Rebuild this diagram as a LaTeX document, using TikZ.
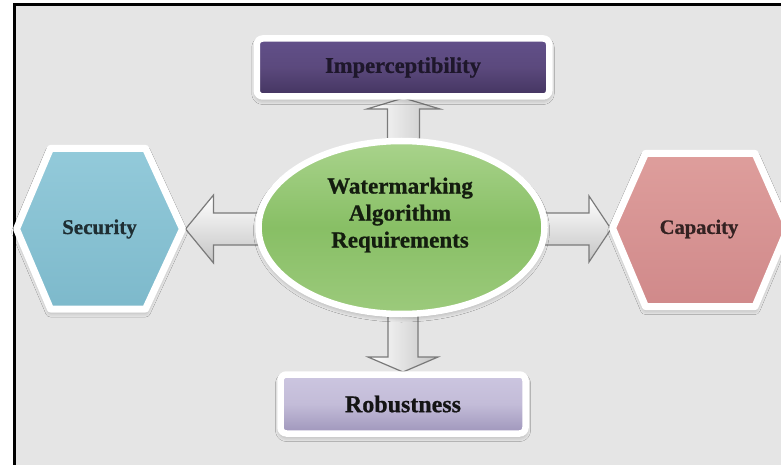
\documentclass[tikz,border=0pt]{standalone}
\usepackage{fontspec}
\setmainfont{Liberation Serif}[BoldFeatures={FakeBold=0.8}]
\usetikzlibrary{shapes.geometric,shadows.blur,calc}

\definecolor{bgc}{HTML}{E5E5E5}
\definecolor{purpTop}{HTML}{62508A}
\definecolor{purpMid}{HTML}{5B497D}
\definecolor{purpBot}{HTML}{433460}
\definecolor{lavTop}{HTML}{CCC6E0}
\definecolor{lavMid}{HTML}{C3BCD8}
\definecolor{lavBot}{HTML}{9E95BA}
\definecolor{grnTop}{HTML}{A9D38C}
\definecolor{grnMid}{HTML}{88BF65}
\definecolor{grnBot}{HTML}{9CCA7C}
\definecolor{bluTop}{HTML}{93CADA}
\definecolor{bluBot}{HTML}{7DB9CB}
\definecolor{pnkTop}{HTML}{DE9E9C}
\definecolor{pnkBot}{HTML}{D0898A}
\definecolor{arrowEdge}{HTML}{7A7A7A}
\definecolor{arrowDark}{HTML}{C4C4C4}

\begin{document}
\begin{tikzpicture}[x=1pt,y=-1pt,
  softshadow/.style={blur shadow={shadow xshift=0pt,shadow yshift=-3pt,
      shadow blur radius=5pt,shadow opacity=32}},
  boxnode/.style={rectangle,rounded corners=6pt,draw=white,line width=6.5pt,
      inner sep=0pt,softshadow},
  hexpath/.style={draw=white,line width=7pt,line join=round,softshadow},
  lbl/.style={align=center,font=\bfseries},
  blockarrow/.style={draw=arrowEdge,line width=1.2pt,line join=miter},
  harrow/.style={blockarrow,top color=white,bottom color=arrowDark},
  varrow/.style={blockarrow,left color=white,right color=arrowDark}]

\useasboundingbox (0,0) rectangle (781,465);

% framed grey panel
\fill[white] (0,0) rectangle (781,465);
\draw[line width=3pt,fill=bgc] (14,5) rectangle (800,480);

% arrow end points: tips at the requirement shapes, tails inside the ellipse
\coordinate (secTip) at (185.5,229);
\coordinate (capTip) at (611,229);
\coordinate (impTip) at (403.5,98);
\coordinate (robTip) at (403,372);
\coordinate (ellW) at (264,229);
\coordinate (ellE) at (539,229);
\coordinate (ellN) at (403.5,146);
\coordinate (ellS) at (403,309);

% block arrows from the ellipse to each requirement (drawn first, shapes cover the tails)
\path[harrow] (secTip) -- ++(28,-34) -- ++(0,18) -- ($(ellW)+(0,-16)$)
  -- ++(0,32) -- ($(secTip)+(28,16)$) -- ++(0,18) -- cycle;
\path[harrow] (capTip) -- ++(-22,-33) -- ++(0,17) -- ($(ellE)+(0,-16)$)
  -- ++(0,32) -- ($(capTip)+(-22,16)$) -- ++(0,17) -- cycle;
\path[varrow] (impTip) -- ++(36.5,11) -- ++(-20.5,0) -- ($(ellN)+(16,0)$)
  -- ++(-32,0) -- ($(impTip)+(-16,11)$) -- ++(-20.5,0) -- cycle;
\path[varrow] (robTip) -- ++(-35,-15) -- ++(20,0) -- ($(ellS)+(-15,0)$)
  -- ++(30,0) -- ($(robTip)+(15,-15)$) -- ++(20,0) -- cycle;

% boxes
\node[boxnode,minimum width=292.5pt,minimum height=58pt,
      top color=purpTop,bottom color=purpBot,middle color=purpMid]
      (imp) at (403,67.5) {};
\node[boxnode,minimum width=245pt,minimum height=59pt,
      top color=lavTop,bottom color=lavBot,middle color=lavMid]
      (rob) at (403,404) {};

% hexagons
\path[hexpath,top color=bluTop,bottom color=bluBot]
  (16.5,229) -- (50.5,148.5) -- (145.5,148.5)
  -- (182.5,229) -- (145.5,309) -- (50.5,309) -- cycle;
\path[hexpath,top color=pnkTop,bottom color=pnkBot]
  (612.5,228) -- (645.5,153.5) -- (755,153.5)
  -- (788,228) -- (755,306.5) -- (645.5,306.5) -- cycle;

% central ellipse
\node[ellipse,minimum width=286pt,minimum height=173pt,inner sep=0pt,
      draw=white,line width=6.5pt,softshadow,
      top color=grnTop,bottom color=grnBot,middle color=grnMid]
      (ell) at (401.5,227.5) {};

% labels
\node[lbl,font=\bfseries\fontsize{22.5}{26}\selectfont,text=purpBot!45!black]
  (impl) at (imp) {Imperceptibility};
\node[lbl,font=\bfseries\fontsize{24}{28}\selectfont,text=black!92]
  (robl) at (rob) {Robustness};
\node[lbl,font=\bfseries\fontsize{21}{25}\selectfont,text=bluBot!25!black]
  (sec) at (99.5,229) {Security};
\node[lbl,font=\bfseries\fontsize{20.5}{25}\selectfont,text=pnkBot!25!black]
  (cap) at (699,229) {Capacity};
\node[lbl,font=\bfseries\fontsize{23}{27}\selectfont,text=grnMid!15!black]
  (elll) at (400,215) {Watermarking\\Algorithm\\Requirements};
\end{tikzpicture}
\end{document}
